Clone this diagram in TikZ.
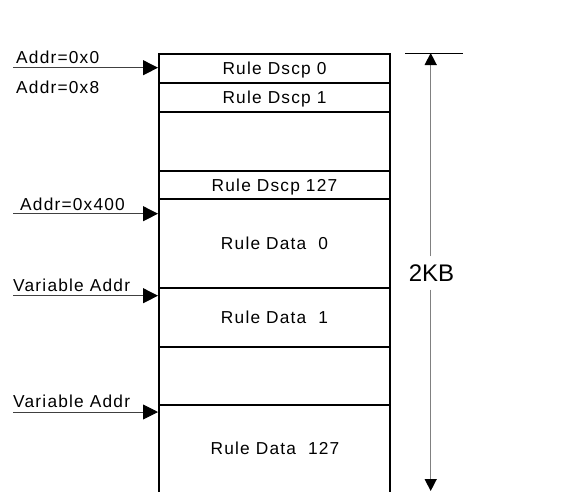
\documentclass[tikz,border=0pt]{standalone}
\usepackage{fontspec}
\setmainfont{Liberation Sans}
\newfontfamily\labfont{Liberation Sans}[LetterSpace=7]
\usetikzlibrary{arrows.meta}
\begin{document}
\begin{tikzpicture}[x=1pt,y=-1pt,
  rowbox/.style={draw=black,line width=2pt,minimum width=231pt,inner sep=0pt,
    anchor=north west,text height=12pt,text depth=0pt,font=\labfont\fontsize{17.3}{20}\selectfont},
  lab/.style={anchor=base west,inner sep=0pt,font=\labfont\fontsize{17.3}{20}\selectfont},
  addr/.style={draw=black!75,line width=0.9pt,-{Triangle[length=15pt,width=15pt,color=black]}},
  dim/.style={draw=black!50,line width=1.4pt,-{Triangle[length=12pt,width=12pt,color=black]}},
  tick/.style={draw=black,line width=0.8pt}]
\useasboundingbox (0,0) rectangle (564,491);
% memory rows
\node[rowbox,minimum height=29pt] (r0) at (158,53) {Rule Dscp 0};
\node[rowbox,minimum height=29pt] (r1) at (158,82) {Rule Dscp 1};
\node[rowbox,minimum height=59pt] (r2) at (158,111) {};
\node[rowbox,minimum height=28pt] (r3) at (158,170) {Rule Dscp 127};
\node[rowbox,minimum height=89pt] (r4) at (158,198) {Rule Data\ \ 0};
\node[rowbox,minimum height=59pt] (r5) at (158,287) {Rule Data\ \ 1};
\node[rowbox,minimum height=58pt] (r6) at (158,346) {};
\node[rowbox,minimum height=95pt,text height=0pt,text depth=0pt] (r7) at (158,404) {};
\node[lab,anchor=base] (t7) at (275,454) {Rule Data\ \ 127};
% address labels
\node[lab] (l0) at (16,63.5) {Addr=0x0};
\node[lab] (l1) at (16,93) {Addr=0x8};
\node[lab] (l2) at (20,210) {Addr=0x400};
\node[lab] (l3) at (13,291) {Variable Addr};
\node[lab] (l4) at (13,407.5) {Variable Addr};
% arrows
\coordinate (s0) at (13,67.7);
\coordinate (s2) at (13,213.7);
\coordinate (s3) at (13,295.7);
\coordinate (s4) at (13,412);
\draw[addr] (s0) -- (s0 -| r0.west);
\draw[addr] (s2) -- (s2 -| r4.west);
\draw[addr] (s3) -- (s3 -| r5.west);
\draw[addr] (s4) -- (s4 -| r7.west);
% dimension
\coordinate (ta) at (405,53);
\coordinate (tb) at (463,53);
\draw[tick] (ta) -- (tb);
\coordinate (dt) at (430.7,53);
\coordinate (db) at (430.7,491);
\node[inner sep=0pt,minimum height=33pt,font=\fontsize{24}{28}\selectfont] (kb) at (431.5,273) {2KB};
\draw[dim] (kb.north -| dt) -- (dt);
\draw[dim] (kb.south -| db) -- (db);
\end{tikzpicture}
\end{document}
